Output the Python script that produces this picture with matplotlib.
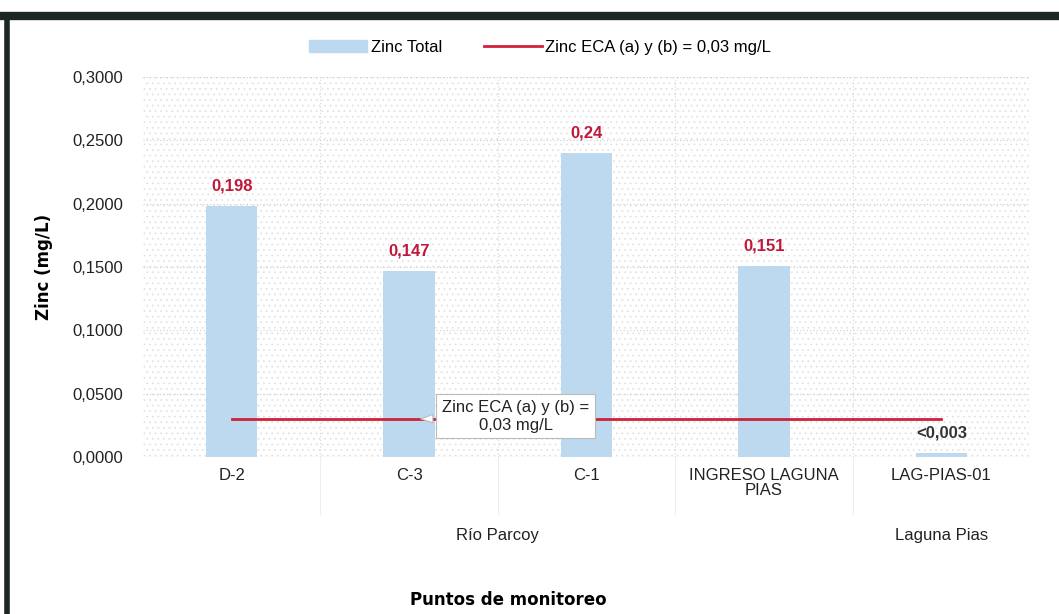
import matplotlib
matplotlib.use('Agg')
import matplotlib.pyplot as plt
import matplotlib.patches as mpatches
from matplotlib.lines import Line2D

# datos
puntos = ["D-2", "C-3", "C-1", "INGRESO LAGUNA\nPIAS", "LAG-PIAS-01"]
zinc_total = [0.198, 0.147, 0.24, 0.151, 0.003]
etiquetas = ["0,198", "0,147", "0,24", "0,151", "<0,003"]
eca = [0.03, 0.03, 0.03, 0.03, 0.03]
grupos = [("Río Parcoy", 1.5), ("Laguna Pias", 4)]
yticks = [0.0, 0.05, 0.10, 0.15, 0.20, 0.25, 0.30]

plt.rcParams['font.family'] = ['Liberation Sans Narrow', 'Liberation Sans', 'DejaVu Sans']
plt.rcParams['hatch.linewidth'] = 0.6

fig = plt.figure(figsize=(10.59, 6.14), dpi=100)
ax = fig.add_axes([0.135, 0.2557, 0.8376, 0.6189])

x = list(range(len(puntos)))
ax.set_xlim(-0.5, 4.5)
ax.set_ylim(0, 0.3)

# fondo punteado
ax.add_patch(mpatches.Rectangle((-0.5, 0), 5, 0.3, facecolor='white',
                                edgecolor='#e3e3e3', hatch='...', linewidth=0, zorder=0))

for yv in yticks[1:]:
    ax.axhline(yv, color='#cfcfcf', linestyle=(0, (1, 2)), linewidth=0.8, zorder=1)
for xb in [0.5, 1.5, 2.5, 3.5]:
    ax.axvline(xb, color='#d6d6d6', linestyle=(0, (1, 2)), linewidth=0.8, zorder=1)

ax.bar(x, zinc_total, width=0.29, color='#bcd9ef', zorder=2, label='Zinc Total')
ax.plot(x, eca, color='#d0213a', linewidth=2, zorder=3)

for i, (v, t) in enumerate(zip(zinc_total, etiquetas)):
    col = '#333333' if t.startswith('<') else '#c0183a'
    ax.text(i, v + 0.01, t, ha='center', va='bottom', fontsize=12,
            fontweight='bold', color=col)

# callout
ax.annotate("Zinc ECA (a) y (b) =\n0,03 mg/L", xy=(1.05, 0.03), xytext=(1.6, 0.032),
            ha='center', va='center', fontsize=12, color='#222222', zorder=5,
            bbox=dict(boxstyle='square,pad=0.35', fc='white', ec='#bbbbbb', lw=0.8),
            arrowprops=dict(arrowstyle='wedge,tail_width=0.5', fc='white', ec='#bbbbbb', lw=0.8))

ax.set_xticks(x)
ax.set_xticklabels(puntos, fontsize=12, color='#222222', linespacing=0.95)
ax.tick_params(axis='x', length=0, pad=8)
ax.set_yticks(yticks)
ax.set_yticklabels([f"{v:.4f}".replace('.', ',') for v in yticks], fontsize=12, color='#222222')
ax.tick_params(axis='y', length=0, pad=14)
for s in ax.spines.values():
    s.set_visible(False)
ax.axhline(0, color='#d9d9d9', linewidth=0.8, zorder=1)

# separadores bajo el eje
for xb in [0.5, 1.5, 2.5, 3.5]:
    ax.plot([xb, xb], [0, -0.045], color='#eeeeee', linewidth=0.8, clip_on=False)

for nombre, pos in grupos:
    ax.text(pos, -0.062, nombre, ha='center', va='center', fontsize=12, color='#222222')

ax.set_ylabel("Zinc (mg/L)", fontsize=12, fontweight='bold', family='DejaVu Sans', labelpad=14)
fig.text(0.48, 0.022, "Puntos de monitoreo", ha='center', va='center', fontsize=12,
         fontweight='bold', family='DejaVu Sans')

handles = [mpatches.Patch(color='#bcd9ef', label='Zinc Total'),
           Line2D([0], [0], color='#d0213a', lw=2, label='Zinc ECA (a) y (b) = 0,03 mg/L')]
fig.legend(handles=handles, loc='center', bbox_to_anchor=(0.51, 0.923), ncol=2, frameon=False,
           fontsize=12, handlelength=3.5, columnspacing=2.5, handletextpad=0.2)

# marco oscuro
fig.add_artist(Line2D([0, 1], [0.974, 0.974], color='#1d2525', lw=6, transform=fig.transFigure))
fig.add_artist(Line2D([0.007, 0.007], [0, 0.974], color='#1d2525', lw=4, transform=fig.transFigure))

fig.savefig('out.png', dpi=100, facecolor='white')
